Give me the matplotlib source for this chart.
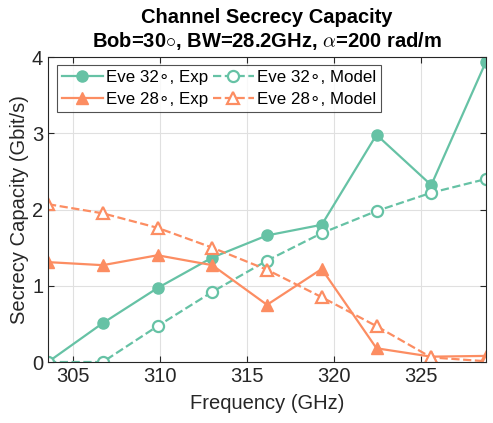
import matplotlib.pyplot as plt

plt.rcParams['font.family'] = ['Liberation Sans', 'DejaVu Sans']
plt.rcParams['mathtext.fontset'] = 'cm'

# data
freq = [303.55, 306.7, 309.85, 313.0, 316.15, 319.3, 322.45, 325.6, 328.75]
eve32_exp = [0.0, 0.51, 0.97, 1.37, 1.66, 1.80, 2.98, 2.32, 3.94]
eve32_mod = [0.0, 0.0, 0.47, 0.92, 1.33, 1.69, 1.98, 2.22, 2.40]
eve28_exp = [1.31, 1.27, 1.40, 1.27, 0.75, 1.22, 0.18, 0.07, 0.08]
eve28_mod = [2.07, 1.95, 1.76, 1.50, 1.21, 0.85, 0.47, 0.06, 0.01]

green = '#66c2a5'
orange = '#fc8d62'
deg = '\u2218'

fig = plt.figure(figsize=(4.93, 4.23), dpi=100)
ax = fig.add_axes([0.0974, 0.1442, 0.8884, 0.721])

lw = 1.6
ms = 8
l1, = ax.plot(freq, eve32_exp, '-o', color=green, lw=lw, ms=ms, label=f'Eve 32{deg}, Exp')
l2, = ax.plot(freq, eve32_mod, '--o', color=green, lw=lw, ms=ms, mfc='white', mew=1.6,
              label=f'Eve 32{deg}, Model')
l3, = ax.plot(freq, eve28_exp, '-^', color=orange, lw=lw, ms=ms + 1, label=f'Eve 28{deg}, Exp')
l4, = ax.plot(freq, eve28_mod, '--^', color=orange, lw=lw, ms=ms + 1, mfc='white', mew=1.6,
              label=f'Eve 28{deg}, Model')

ax.set_xlim(freq[0], freq[-1])
ax.set_ylim(0, 4)
ax.set_xticks([305, 310, 315, 320, 325])
ax.set_yticks([0, 1, 2, 3, 4])
ax.tick_params(direction='in', top=True, right=True, labelsize=14.5, length=4, colors='#262626')
ax.grid(True, color='#e0e0e0', lw=0.8)
ax.set_axisbelow(True)
for s in ax.spines.values():
    s.set_color('#262626')
    s.set_linewidth(0.8)

ax.set_xlabel('Frequency (GHz)', fontsize=14.5, color='#262626', labelpad=6)
ax.set_ylabel('Secrecy Capacity (Gbit/s)', fontsize=14.5, color='#262626', labelpad=2)
ax.set_title('Channel Secrecy Capacity\nBob=30$\\circ$, BW=28.2GHz, $\\alpha$=200 rad/m',
             fontsize=14.5, fontweight='bold', pad=7, linespacing=1.2)

leg = ax.legend([l1, l3, l2, l4], [l.get_label() for l in (l1, l3, l2, l4)],
                ncol=2, loc='upper left', bbox_to_anchor=(0.02, 0.975), fontsize=12.2,
                frameon=True, fancybox=False, edgecolor='#262626', handlelength=2.4,
                handletextpad=0.2, columnspacing=0.3, borderpad=0.3, labelspacing=0.45,
                borderaxespad=0)
leg.get_frame().set_linewidth(0.8)

fig.savefig('out.png', dpi=100)
